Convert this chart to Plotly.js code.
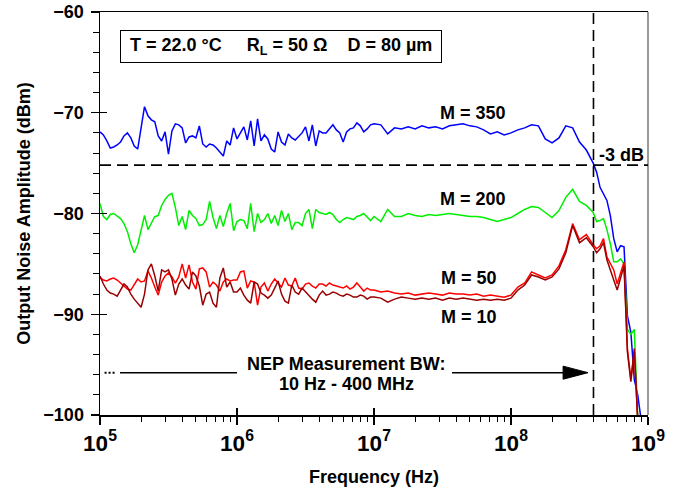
<!DOCTYPE html>
<html>
<head>
<meta charset="utf-8">
<script src="https://cdn.plot.ly/plotly-3.0.1.min.js"></script>
<style>html,body{margin:0;padding:0;background:#fff;}#chart{width:681px;height:491px;}</style>
</head>
<body>
<div id="chart"></div>
<script>
// Frequency grid (Hz)
const freqHz = [
  1.000e5,1.059e5,1.122e5,1.189e5,1.259e5,1.334e5,1.413e5,1.496e5,1.585e5,1.679e5,
  1.778e5,1.884e5,1.995e5,2.113e5,2.239e5,2.371e5,2.512e5,2.661e5,2.818e5,2.985e5,
  3.162e5,3.350e5,3.548e5,3.758e5,3.981e5,4.217e5,4.467e5,4.732e5,5.012e5,5.309e5,
  5.623e5,5.957e5,6.310e5,6.683e5,7.079e5,7.499e5,7.943e5,8.414e5,8.913e5,9.441e5,
  1.000e6,1.059e6,1.122e6,1.189e6,1.259e6,1.334e6,1.413e6,1.496e6,1.585e6,1.679e6,
  1.778e6,1.884e6,1.995e6,2.113e6,2.239e6,2.371e6,2.512e6,2.661e6,2.818e6,2.985e6,
  3.162e6,3.350e6,3.548e6,3.758e6,3.981e6,4.217e6,4.467e6,4.732e6,5.012e6,5.309e6,
  5.623e6,5.957e6,6.310e6,6.683e6,7.079e6,7.499e6,7.943e6,8.414e6,8.913e6,9.441e6,
  1.000e7,1.122e7,1.259e7,1.413e7,1.585e7,1.778e7,1.995e7,2.239e7,2.512e7,2.818e7,
  3.162e7,3.548e7,3.981e7,4.467e7,5.012e7,5.623e7,6.310e7,7.079e7,7.943e7,8.913e7,
  1.000e8,1.122e8,1.259e8,1.413e8,1.585e8,1.778e8,1.995e8,2.239e8,2.512e8,2.818e8,
  3.162e8,3.548e8,
  3.981e8,4.217e8,4.467e8,4.732e8,5.012e8,5.309e8,5.623e8,5.957e8,6.310e8,6.683e8,
  7.079e8,7.499e8,7.943e8,8.414e8,8.913e8,9.441e8,1.000e9
];

// Output noise amplitude (dBm)
const m350 = [
  -71.9,-72.2,-72.8,-73.5,-73.4,-73.2,-72.9,-72.3,-72.0,-72.5,
  -73.3,-73.6,-71.5,-69.4,-70.3,-70.7,-70.9,-72.3,-72.8,-71.9,
  -74.1,-71.8,-71.1,-71.2,-71.5,-73.0,-72.4,-72.3,-72.5,-71.3,
  -73.1,-73.4,-73.1,-73.2,-73.5,-73.9,-74.3,-72.8,-73.2,-71.5,
  -72.6,-72.0,-71.4,-72.7,-70.8,-73.3,-70.6,-72.8,-72.2,-72.6,
  -73.6,-73.9,-71.9,-72.9,-73.2,-72.1,-72.5,-72.7,-72.3,-72.0,
  -71.4,-72.8,-71.2,-73.3,-71.8,-72.0,-72.0,-71.6,-71.2,-71.7,
  -72.0,-72.9,-71.9,-71.6,-71.5,-71.0,-71.3,-71.9,-71.6,-71.2,
  -71.1,-71.2,-72.1,-71.5,-71.6,-71.4,-71.6,-71.3,-71.5,-71.4,
  -71.6,-71.3,-71.2,-71.1,-71.3,-71.4,-71.7,-72.1,-71.9,-72.2,
  -72.0,-71.7,-71.5,-71.2,-71.3,-72.6,-73.0,-72.5,-71.3,-71.5,
  -72.9,-73.7,
  -75.0,-75.9,-77.4,-78.0,-78.7,-80.2,-82.5,-83.8,-83.2,-83.3,
  -90.2,-91.8,-96.5,-98.0,-100.5,null,null
];
const m200 = [
  -79.0,-80.3,-80.6,-80.1,-80.0,-80.3,-80.5,-81.0,-81.8,-83.0,
  -83.9,-83.1,-81.5,-80.2,-81.6,-80.9,-80.3,-80.2,-79.2,-78.6,
  -78.2,-78.0,-79.4,-81.2,-80.3,-81.6,-79.7,-80.2,-80.5,-81.2,
  -81.1,-80.6,-78.8,-80.4,-81.5,-80.2,-81.3,-80.0,-79.0,-81.7,
  -80.8,-80.6,-80.7,-81.5,-79.0,-81.8,-80.0,-80.9,-80.6,-80.0,
  -81.0,-80.2,-81.2,-79.7,-80.8,-80.0,-81.6,-80.9,-80.9,-81.2,
  -80.0,-79.6,-81.5,-79.6,-79.9,-80.0,-80.1,-79.9,-80.1,-80.6,
  -80.9,-80.6,-80.4,-80.5,-80.6,-80.3,-80.2,-80.0,-80.4,-80.7,
  -80.3,-80.8,-79.6,-80.3,-80.3,-80.0,-80.2,-80.3,-80.1,-80.2,
  -80.1,-80.0,-80.1,-80.2,-80.3,-80.3,-80.4,-80.6,-80.8,-80.6,
  -80.4,-80.0,-79.6,-79.3,-79.4,-79.9,-80.4,-79.7,-78.4,-77.6,
  -78.8,-79.2,
  -79.9,-80.8,-80.7,-80.5,-81.6,-83.0,-84.8,-84.8,-84.5,-85.0,
  -91.5,-92.0,-91.5,-100.3,null,null,null
];
const m50 = [
  -86.4,-86.6,-86.7,-86.5,-86.4,-86.6,-86.9,-87.2,-87.5,-87.6,
  -87.0,-86.5,-86.8,-86.7,-85.7,-86.4,-87.3,-88.1,-86.8,-86.2,
  -85.9,-86.3,-86.9,-86.3,-85.0,-86.4,-85.1,-86.8,-87.5,-85.5,
  -85.4,-85.8,-87.3,-86.8,-87.1,-87.7,-86.8,-86.5,-86.7,-86.6,
  -86.6,-85.8,-85.7,-87.4,-86.7,-86.8,-89.1,-87.3,-86.9,-87.7,
  -87.0,-86.5,-86.9,-87.3,-86.4,-87.1,-87.2,-86.4,-87.4,-87.5,
  -87.0,-86.9,-87.2,-87.4,-87.0,-87.0,-87.2,-86.9,-87.1,-87.2,
  -87.3,-87.4,-87.2,-87.5,-87.3,-86.9,-87.3,-87.7,-87.4,-87.6,
  -87.6,-87.8,-87.7,-87.9,-88.0,-87.9,-88.1,-88.0,-87.9,-88.0,
  -88.1,-87.9,-88.0,-88.0,-88.1,-88.0,-88.2,-88.1,-88.2,-88.3,
  -88.1,-87.3,-86.9,-85.8,-86.1,-86.4,-86.1,-85.2,-83.6,-81.0,
  -82.6,-82.1,
  -83.1,-83.5,-83.2,-82.5,-84.3,-85.0,-85.6,-87.0,-86.0,-84.8,
  -93.5,-96.4,-93.7,-100.5,null,null,null
];
const m10 = [
  -86.2,-87.0,-87.6,-87.9,-88.0,-88.2,-87.6,-87.0,-87.3,-88.0,
  -88.5,-88.9,-89.3,-88.0,-85.6,-85.0,-86.2,-87.7,-85.6,-85.8,
  -85.6,-86.5,-88.1,-87.0,-86.5,-87.1,-87.5,-85.8,-86.2,-87.2,
  -89.1,-88.0,-87.8,-88.9,-89.3,-86.4,-85.4,-87.3,-86.8,-87.8,
  -87.8,-87.4,-88.1,-88.6,-88.9,-86.8,-87.0,-87.9,-88.1,-88.4,
  -88.1,-87.4,-86.7,-88.0,-88.7,-88.9,-87.1,-87.8,-88.0,-87.4,
  -87.8,-88.1,-88.5,-88.8,-88.1,-87.7,-88.1,-88.0,-87.8,-87.9,
  -88.1,-88.2,-88.0,-88.1,-88.3,-88.3,-88.1,-88.2,-88.5,-88.3,
  -88.3,-88.4,-88.8,-88.5,-88.3,-88.4,-88.5,-88.4,-88.5,-88.4,
  -88.6,-88.4,-88.5,-88.4,-88.5,-88.6,-88.5,-88.6,-88.5,-88.6,
  -88.4,-87.6,-87.1,-86.1,-86.3,-86.6,-86.3,-85.5,-83.9,-81.2,
  -82.9,-82.4,
  -83.3,-83.9,-83.5,-82.9,-84.6,-85.5,-86.6,-87.6,-86.4,-85.2,
  -93.8,-96.7,-93.4,-100.5,null,null,null
];

const seriesNames = ['M = 350', 'M = 200', 'M = 50', 'M = 10'];
const seriesValues = [m350, m200, m50, m10];
const seriesColors = ['#0000ff', '#00ee00', '#ff0000', '#990000'];

const FONT = 'Arial, "Liberation Sans", Helvetica, sans-serif';
const bold = (size) => ({family: FONT, size: size, color: '#000', weight: 'bold'});

const traces = seriesValues.map((vals, i) => ({
  type: 'scatter', mode: 'lines', name: seriesNames[i],
  x: freqHz, y: vals, connectgaps: false,
  line: {color: seriesColors[i], width: 1.5},
  hoverinfo: 'skip'
}));
// helper trace so the overlay axes (crossing major ticks) are drawn
traces.push({type: 'scatter', mode: 'lines', x: [], y: [], xaxis: 'x2', yaxis: 'y2', showlegend: false, hoverinfo: 'skip'});

const dashed = {color: '#000', width: 1.6, dash: '11px,6px'};
const arrowY = -95.8;

const layout = {
  width: 681, height: 491,
  margin: {l: 100, r: 33, t: 12, b: 76},
  paper_bgcolor: '#fff', plot_bgcolor: '#fff',
  showlegend: false,
  font: bold(18),
  xaxis: {
    type: 'log', range: [5, 9], dtick: 1, exponentformat: 'power',
    showgrid: false, zeroline: false,
    showline: true, linecolor: '#000', linewidth: 1.5, mirror: true,
    ticks: 'outside', ticklen: 8, tickwidth: 1.3, tickcolor: '#000',
    minor: {ticks: 'outside', ticklen: 5, tickwidth: 1, tickcolor: '#000', dtick: 'D1', showgrid: false},
    tickfont: bold(18),
    title: {text: 'Frequency (Hz)', font: bold(18), standoff: 16}
  },
  yaxis: {
    range: [-100, -60], dtick: 10,
    showgrid: false, zeroline: false,
    showline: true, linecolor: '#000', linewidth: 1.5,
    ticks: 'outside', ticklen: 8, tickwidth: 1.3, tickcolor: '#000',
    minor: {ticks: 'outside', ticklen: 6, tickwidth: 1, tickcolor: '#000', dtick: 2, showgrid: false},
    tickfont: bold(18),
    ticklabelstandoff: 3,
    title: {text: 'Output Noise Amplitude (dBm)', font: bold(18), standoff: 8}
  },
  xaxis2: {
    type: 'log', range: [5, 9], dtick: 1, overlaying: 'x', anchor: 'y2', side: 'bottom',
    showgrid: false, zeroline: false, showline: false, showticklabels: false,
    ticks: 'inside', ticklen: 7, tickwidth: 1.3, tickcolor: '#000'
  },
  yaxis2: {
    range: [-100, -60], dtick: 10, overlaying: 'y', anchor: 'x2', side: 'left',
    showgrid: false, zeroline: false, showline: false, showticklabels: false,
    ticks: 'inside', ticklen: 7, tickwidth: 1.3, tickcolor: '#000'
  },
  shapes: [
    {type: 'line', xref: 'paper', x0: 1, x1: 1, yref: 'paper', y0: 0, y1: 1, line: {color: '#777', width: 1.5}},
    {type: 'line', xref: 'paper', x0: 0, x1: 1, yref: 'y', y0: -75.2, y1: -75.2, line: dashed},
    {type: 'line', xref: 'x', x0: 4e8, x1: 4e8, yref: 'paper', y0: 0, y1: 1, line: dashed},
    {type: 'line', xref: 'x', x0: 1.08e5, x1: 1.29e5, yref: 'y', y0: arrowY, y1: arrowY, line: {color: '#000', width: 2, dash: '2px,2px'}},
    {type: 'line', xref: 'x', x0: 1.40e5, x1: 1.0e6, yref: 'y', y0: arrowY, y1: arrowY, line: {color: '#000', width: 1.5}},
    {type: 'line', xref: 'x', x0: 3.71e7, x1: 2.45e8, yref: 'y', y0: arrowY, y1: arrowY, line: {color: '#000', width: 1.5}},
    {type: 'path', xref: 'x', yref: 'y', path: 'M365000000,-95.8 L240000000,-95.15 L240000000,-96.45 Z',
     fillcolor: '#000', line: {color: '#000', width: 1}}
  ],
  annotations: [
    {x: 6.321, y: -63.45, xref: 'x', yref: 'y', showarrow: false,
     text: '&nbsp;T = 22.0 °C&nbsp;&nbsp;&nbsp;&nbsp;&nbsp;R<sub>L</sub> = 50 Ω&nbsp;&nbsp;&nbsp;&nbsp;D = 80 µm&nbsp;',
     font: bold(18), bordercolor: '#000', borderwidth: 1, borderpad: 4, bgcolor: '#fff'},
    {x: 7.723, y: -70.0, xref: 'x', yref: 'y', showarrow: false, text: seriesNames[0], font: bold(18)},
    {x: 7.723, y: -78.6, xref: 'x', yref: 'y', showarrow: false, text: seriesNames[1], font: bold(18)},
    {x: 7.693, y: -86.4, xref: 'x', yref: 'y', showarrow: false, text: seriesNames[2], font: bold(18)},
    {x: 7.693, y: -90.3, xref: 'x', yref: 'y', showarrow: false, text: seriesNames[3], font: bold(18)},
    {x: 8.803, y: -74.2, xref: 'x', yref: 'y', showarrow: false, text: '-3 dB', font: bold(18)},
    {x: 6.796, y: -94.9, xref: 'x', yref: 'y', showarrow: false, text: 'NEP Measurement BW:', font: bold(18)},
    {x: 6.796, y: -96.9, xref: 'x', yref: 'y', showarrow: false, text: '10 Hz - 400 MHz', font: bold(18)}
  ]
};

Plotly.newPlot('chart', traces, layout, {staticPlot: true, displayModeBar: false});
</script>
</body>
</html>
